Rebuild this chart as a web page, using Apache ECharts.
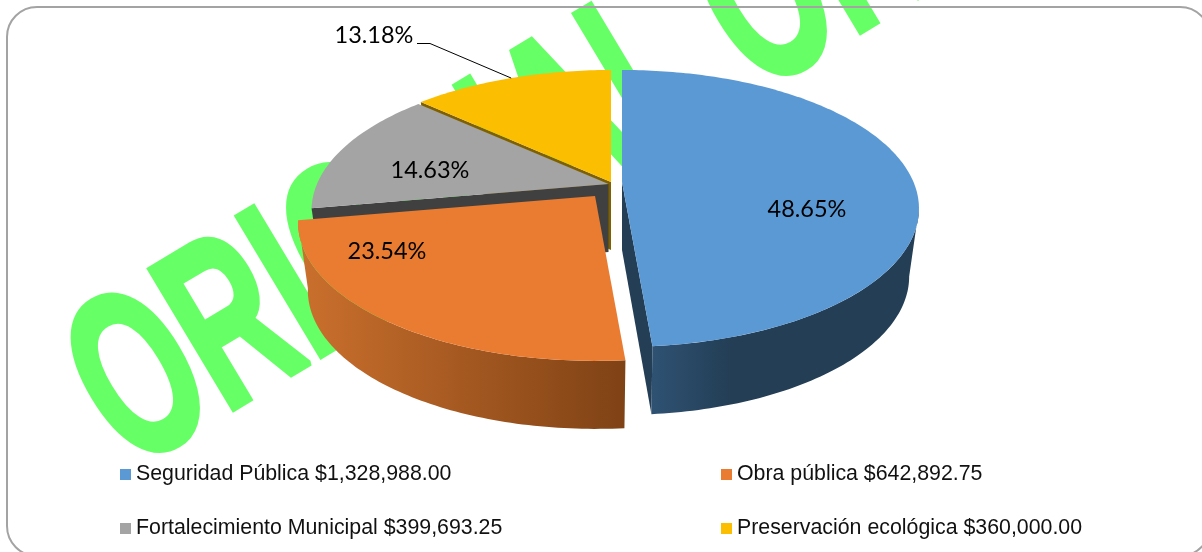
<!DOCTYPE html>
<html>
<head>
<meta charset="utf-8">
<title>Distribucion</title>
<style>
html,body{margin:0;padding:0;background:#fff;}
#pie-3d{width:1202px;height:552px;}
</style>
<script src="https://cdn.jsdelivr.net/npm/echarts@6/dist/echarts.min.js"></script>
</head>
<body>
<div id="pie-3d"></div>
<script>
var categories = ['Seguridad Pública','Obra pública','Fortalecimiento Municipal','Preservación ecológica'];
var amounts = [1328988.00,642892.75,399693.25,360000.00];
var watermark = 'ORIGINAL ORIGINAL';

var topColors = ['#5B99D5','#EA7C31','#A4A4A4','#FCBE00'];
var faceColors = ['#233E55','#7F4215','#404040','#7F6000'];
// left and right colour of the outer wall, it is shaded sideways
var wallLeft = ['#2F5273','#CB702D','#666666','#7F6000'];
var wallRight = ['#233E55','#7F4215','#404040','#7F6000'];
// where each slice's centre ended up once exploded
var apexX = [622,595,608.5,611];
var apexY = [182,196,184,182];
var labelX = [807,387,430,374];
var labelY = [209,251,170,35];

// perspective of the disc
var persA = 291.5, persB = 133.4, persK = 0.191;
var depth = 68, bottomScale = 0.967;

var total = 0;
for(var i=0;i<amounts.length;i++){
    total += amounts[i];
}

function legend_name(i){
    return categories[i]+' $'+amounts[i].toLocaleString('en-US',{minimumFractionDigits:2,maximumFractionDigits:2});
}

function project(i,deg,isBottom){
    var th = deg*Math.PI/180;
    var x = Math.sin(th), z = -Math.cos(th);
    var d = 1-persK*z;
    var u = persA*x/d, v = persB*z/d;
    if(isBottom){
        return [apexX[i]+u*bottomScale,apexY[i]+depth+v];
    }
    return [apexX[i]+u,apexY[i]+v];
}

function arc(i,from,to,isBottom){
    var pts = [];
    var n = Math.max(2,Math.ceil(to-from));
    for(var k=0;k<=n;k++){
        pts.push(project(i,from+(to-from)*k/n,isBottom));
    }
    return pts;
}

function radial_face(i,deg){
    return {
        type:'polygon',
        shape:{points:[[apexX[i],apexY[i]],project(i,deg,false),project(i,deg,true),[apexX[i],apexY[i]+depth]]},
        style:{fill:faceColors[i]}
    };
}

function render_slice(i){
    return function(params,api){
        var start = 0;
        for(var j=0;j<i;j++){
            start += amounts[j];
        }
        var th0 = start/total*360;
        var th1 = (start+api.value(0))/total*360;
        var children = [];
        if(th0>=180){
            children.push(radial_face(i,th0));
        }
        if(th1<=180){
            children.push(radial_face(i,th1));
        }
        // wall only between the two side extremes of the ellipse
        var w0 = Math.max(th0,101), w1 = Math.min(th1,260);
        if(w1>w0){
            children.push({
                type:'polygon',
                shape:{points:arc(i,w0,w1,false).concat(arc(i,w0,w1,true).reverse())},
                style:{fill:new echarts.graphic.LinearGradient(0,0,1,0,[
                    {offset:0,color:wallLeft[i]},
                    {offset:i==0?0.3:1,color:wallRight[i]},
                    {offset:1,color:wallRight[i]}
                ])}
            });
        }
        children.push({
            type:'polygon',
            shape:{points:[[apexX[i],apexY[i]]].concat(arc(i,th0,th1,false))},
            style:{fill:topColors[i]}
        });
        if(i==3){
            // only the small slice has a leader line
            var mid = project(i,(th0+th1)/2,false);
            children.push({
                type:'polyline',
                shape:{points:[[417,43.5],[430,43.5],mid]},
                style:{stroke:'#000',lineWidth:1,fill:null}
            });
        }
        children.push({
            type:'text',
            z2:10,
            style:{
                text:(api.value(0)/total*100).toFixed(2)+'%',
                x:labelX[i],y:labelY[i],
                align:'center',verticalAlign:'middle',
                font:'23.5px Lato',fill:'#000'
            }
        });
        return {type:'group',children:children};
    };
}

var series = [];
for(var i=0;i<categories.length;i++){
    series.push({
        type:'custom',
        name:legend_name(i),
        coordinateSystem:'none',
        silent:true,
        animation:false,
        itemStyle:{color:topColors[i]},
        // painter's order, back slices first
        z:10-i,
        renderItem:render_slice(i),
        data:[[amounts[i]]]
    });
}

function column_legend(left,names){
    return {
        orient:'vertical',
        left:left,
        top:464,
        icon:'rect',
        itemWidth:11,
        itemHeight:11,
        itemGap:33,
        padding:0,
        selectedMode:false,
        textStyle:{fontFamily:'Liberation Sans',fontSize:21.33,color:'#111'},
        data:names
    };
}

var myChart = echarts.init(document.getElementById('pie-3d'));
var option = {
    animation:false,
    backgroundColor:'#fff',
    legend:[
        column_legend(120,[legend_name(0),legend_name(2)]),
        column_legend(721,[legend_name(1),legend_name(3)])
    ],
    graphic:[
        {
            type:'text',
            z:-2,
            x:157.5,
            y:516,
            rotation:31*Math.PI/180,
            scaleX:0.6,
            silent:true,
            style:{
                text:watermark,
                font:'bold 236px "Liberation Sans"',
                fill:'#66FF66',
                stroke:'#66FF66',
                lineWidth:6,
                verticalAlign:'bottom'
            }
        },
        {
            type:'rect',
            z:-1,
            silent:true,
            shape:{x:7,y:7,width:1203,height:549,r:30},
            style:{fill:null,stroke:'#A3A3A3',lineWidth:2}
        }
    ],
    series:series
};
myChart.setOption(option);
</script>
</body>
</html>
